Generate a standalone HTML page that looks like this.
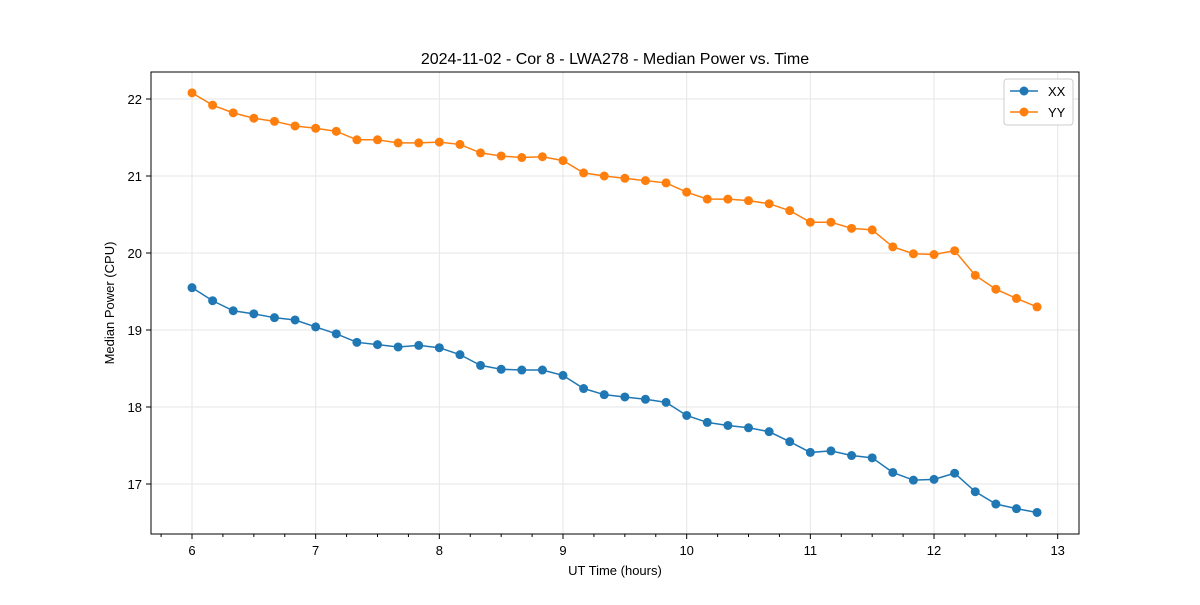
<!DOCTYPE html>
<html><head><meta charset="utf-8"><style>
body{margin:0;background:#fff;}
svg{font-family:"Liberation Sans","DejaVu Sans",sans-serif;}
</style></head><body>
<svg id="chart" width="1200" height="600" xmlns="http://www.w3.org/2000/svg">
<rect width="1200" height="600" fill="#fff"/>
<text x="615" y="64" text-anchor="middle" font-size="16">2024-11-02 - Cor 8 - LWA278 - Median Power vs. Time</text>
<g id="grid"></g><g id="axes"></g><g id="series"></g>
<rect x="151" y="72" width="928" height="462" fill="none" stroke="#000" stroke-width="1"/>
<text x="615" y="575" text-anchor="middle" font-size="13">UT Time (hours)</text>
<text transform="translate(114,303) rotate(-90)" text-anchor="middle" font-size="13">Median Power (CPU)</text>
<g>
<rect x="1004" y="79" width="69" height="46" rx="3" fill="#fff" stroke="#ccc"/>
<g><line x1="1010" y1="91" x2="1038" y2="91" stroke="#1f77b4" stroke-width="1.5"/><circle cx="1024" cy="91" r="4.5" fill="#1f77b4"/><text x="1048" y="96" font-size="13">XX</text></g>
<g><line x1="1010" y1="112" x2="1038" y2="112" stroke="#ff7f0e" stroke-width="1.5"/><circle cx="1024" cy="112" r="4.5" fill="#ff7f0e"/><text x="1048" y="117" font-size="13">YY</text></g>
</g>
</svg>
<script>
const times = [];
for (let k = 0; k < 42; k++) times.push(6 + k / 6);
const xxValues = [19.55,19.38,19.25,19.21,19.16,19.13,19.04,18.95,18.84,18.81,18.78,18.80,18.77,18.68,18.54,18.49,18.48,18.48,18.41,18.24,18.16,18.13,18.10,18.06,17.89,17.80,17.76,17.73,17.68,17.55,17.41,17.43,17.37,17.34,17.15,17.05,17.06,17.14,16.90,16.74,16.68,16.63];
const yyValues = [22.08,21.92,21.82,21.75,21.71,21.65,21.62,21.58,21.47,21.47,21.43,21.43,21.44,21.41,21.30,21.26,21.24,21.25,21.20,21.04,21.00,20.97,20.94,20.91,20.79,20.70,20.70,20.68,20.64,20.55,20.40,20.40,20.32,20.30,20.08,19.99,19.98,20.03,19.71,19.53,19.41,19.30];
const xTicks = [6,7,8,9,10,11,12,13];
const yTicks = [17,18,19,20,21,22];
const NS = "http://www.w3.org/2000/svg";
function xs(v){return 192 + (v-6)*123.67;}
function ys(v){return 99 + (22-v)*77;}
function mk(tag, attrs, parent){const e=document.createElementNS(NS,tag);for(const k in attrs)e.setAttribute(k,attrs[k]);parent.appendChild(e);return e;}
const grid=document.getElementById('grid'), axes=document.getElementById('axes'), series=document.getElementById('series');
xTicks.forEach(t=>{
  const g=mk('line',{x1:xs(t),x2:xs(t),y1:72,y2:534,stroke:'#e6e6e6','stroke-width':1},grid);
  
  
  mk('line',{x1:xs(t),x2:xs(t),y1:534,y2:539,stroke:'#000'},axes);
  const l=mk('text',{x:xs(t),y:555,'text-anchor':'middle','font-size':13},axes);
  l.textContent=t;
  
  
});
for(let m=5.75;m<=13.1;m+=0.25){ if(Math.abs(m-Math.round(m))<1e-6)continue; if(xs(m)<151||xs(m)>1079)continue;
  mk('line',{x1:xs(m),x2:xs(m),y1:534,y2:537,stroke:'#000'},axes);}
yTicks.forEach(t=>{
  const g=mk('line',{x1:151,x2:1079,y1:ys(t),y2:ys(t),stroke:'#e6e6e6','stroke-width':1},grid);
  
  
  mk('line',{x1:146,x2:151,y1:ys(t),y2:ys(t),stroke:'#000'},axes);
  const l=mk('text',{x:142,y:ys(t)+5,'text-anchor':'end','font-size':13},axes);
  l.textContent=t;
  
  
});
function draw(vals,color,name){
  const pl=mk('polyline',{points:vals.map((v,i)=>xs(times[i])+','+ys(v)).join(' '),fill:'none',stroke:color,'stroke-width':1.5},series);
  
  
  vals.forEach((v,i)=>{
    const c=mk('circle',{cx:xs(times[i]),cy:ys(v),r:4.5,fill:color},series);
    
    
  });
}
draw(xxValues,'#1f77b4','xx');
draw(yyValues,'#ff7f0e','yy');
</script>
</body></html>
